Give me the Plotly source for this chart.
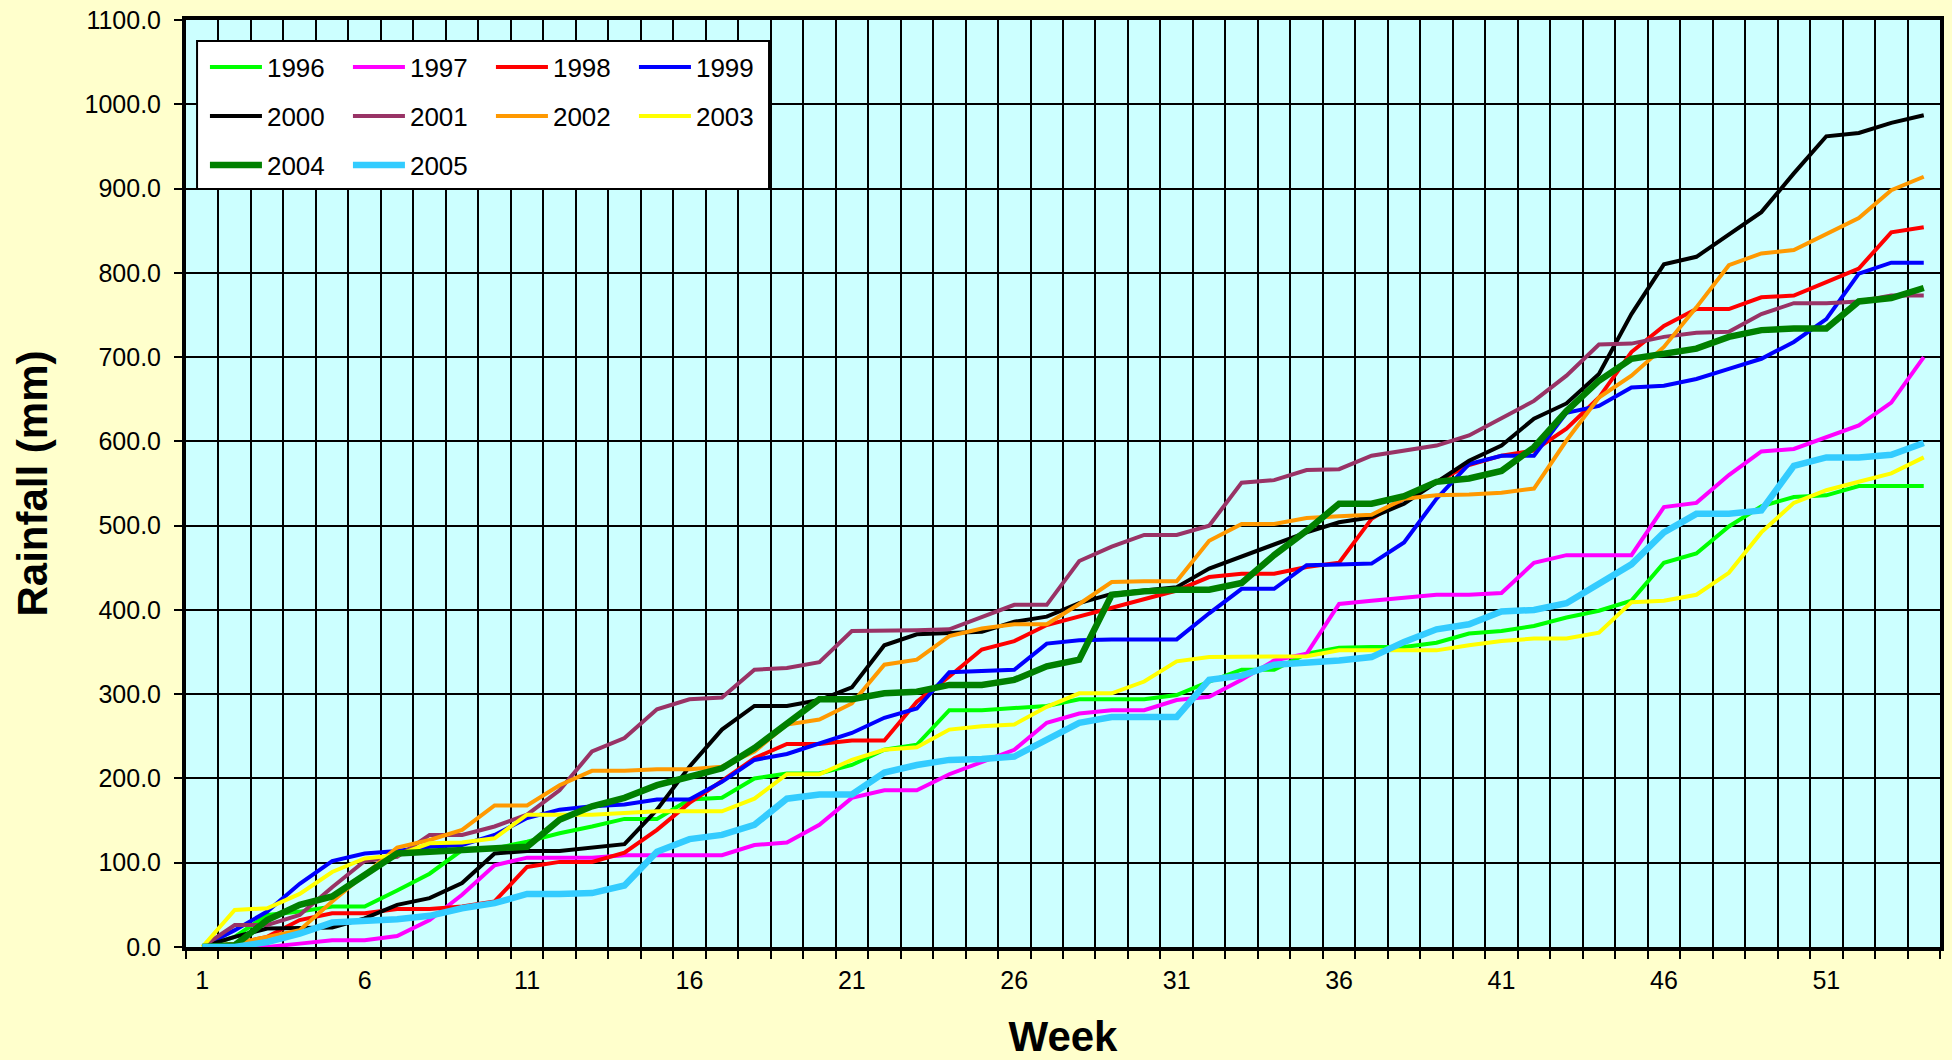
import plotly.graph_objects as go

weeks = list(range(1, 55))
tick_weeks = [1, 6, 11, 16, 21, 26, 31, 36, 41, 46, 51]
tick_labels = [str(w) for w in tick_weeks]

y1996 = [0, 12, 38, 42, 48, 48, 67, 87, 115, 117, 125, 135, 143, 152, 152, 175, 177,
         200, 206, 206, 216, 234, 240, 281, 281, 283, 286, 294, 294, 294, 299, 315, 329, 329, 348,
         355, 356, 356, 361, 372, 375, 381, 391, 399, 411, 456, 467, 499, 523, 534, 536, 547, 547, 547]
y1997 = [0, 0, 0, 4, 8, 8, 13, 32, 62, 97, 106, 106, 106, 109, 109, 109, 109,
         121, 124, 145, 177, 186, 186, 205, 220, 234, 266, 277, 281, 281, 293, 297, 317, 340, 348,
         407, 411, 415, 418, 418, 420, 456, 465, 465, 465, 522, 527, 560, 588, 591, 605, 619, 646, 700]
y1998 = [0, 4, 12, 32, 40, 40, 45, 45, 48, 54, 95, 101, 101, 112, 139, 171, 197,
         224, 241, 241, 245, 245, 291, 321, 353, 363, 382, 392, 402, 413, 423, 439, 443, 443, 451,
         456, 508, 532, 552, 572, 583, 589, 615, 652, 706, 737, 757, 757, 771, 773, 789, 805, 848, 854]
y1999 = [0, 20, 42, 75, 102, 111, 114, 119, 121, 133, 153, 163, 167, 169, 175, 175, 196,
         222, 229, 242, 254, 272, 283, 326, 328, 329, 360, 364, 365, 365, 365, 396, 425, 425, 453,
         454, 455, 480, 532, 573, 583, 583, 634, 642, 664, 666, 674, 686, 698, 718, 745, 799, 812, 812]
y2000 = [0, 12, 22, 23, 23, 34, 50, 58, 76, 111, 114, 114, 118, 122, 163, 214, 258,
         286, 286, 293, 308, 358, 371, 373, 374, 386, 392, 408, 419, 423, 427, 449, 463, 477, 492,
         504, 510, 526, 552, 577, 595, 627, 645, 680, 751, 810, 819, 846, 872, 918, 962, 966, 978, 987]
y2001 = [0, 26, 26, 38, 71, 102, 107, 133, 133, 143, 157, 186, 232, 248, 282, 294, 296,
         329, 331, 338, 375, 375, 376, 377, 392, 406, 406, 458, 475, 489, 489, 500, 551, 554, 566,
         567, 583, 589, 595, 607, 627, 648, 678, 715, 716, 724, 729, 730, 751, 764, 764, 766, 773, 773]
y2002 = [0, 4, 12, 20, 54, 86, 118, 127, 139, 168, 168, 192, 209, 209, 211, 211, 214,
         232, 264, 270, 289, 335, 341, 369, 378, 383, 383, 407, 433, 434, 434, 482, 502, 502, 509,
         511, 513, 532, 536, 537, 539, 544, 601, 652, 678, 712, 759, 809, 823, 827, 846, 865, 898, 914]
y2003 = [0, 44, 46, 63, 89, 105, 109, 123, 124, 129, 157, 157, 157, 159, 161, 161, 161,
         176, 205, 205, 222, 234, 237, 258, 262, 264, 285, 301, 301, 315, 339, 344, 344, 344, 345,
         352, 352, 352, 352, 358, 363, 366, 366, 373, 409, 411, 418, 444, 492, 527, 542, 552, 562, 581]
y2004 = [0, 2, 32, 50, 60, 85, 111, 113, 115, 116, 119, 151, 167, 177, 192, 202, 212,
         236, 266, 294, 294, 301, 303, 311, 311, 317, 333, 341, 418, 422, 424, 424, 432, 465, 494,
         526, 526, 535, 552, 556, 565, 593, 636, 672, 698, 704, 710, 724, 732, 734, 734, 766, 770, 782]
y2005 = [0, 0, 6, 16, 29, 31, 33, 37, 46, 52, 63, 63, 64, 73, 113, 128, 133,
         145, 176, 181, 181, 207, 216, 222, 223, 226, 246, 266, 273, 273, 273, 317, 322, 335, 337,
         340, 344, 362, 377, 383, 398, 400, 408, 431, 454, 492, 514, 514, 518, 571, 581, 581, 584, 598]

series = [
    ("1996", y1996, "#00FF00", 4, "legend"),
    ("1997", y1997, "#FF00FF", 4, "legend"),
    ("1998", y1998, "#FF0000", 4, "legend"),
    ("1999", y1999, "#0000FF", 4, "legend"),
    ("2000", y2000, "#000000", 4, "legend2"),
    ("2001", y2001, "#993366", 4, "legend2"),
    ("2002", y2002, "#FF9900", 4, "legend2"),
    ("2003", y2003, "#FFFF00", 4, "legend2"),
    ("2004", y2004, "#008000", 6.5, "legend3"),
    ("2005", y2005, "#33CCFF", 6.5, "legend3"),
]

FONT = "Liberation Sans, Arial, sans-serif"

fig = go.Figure()
for name, vals, color, width, leg in series:
    fig.add_trace(go.Scatter(
        x=weeks, y=vals, name=name, mode="lines",
        line=dict(color=color, width=width),
        legend=leg,
    ))

leg_common = dict(
    orientation="h", bgcolor="rgba(0,0,0,0)", borderwidth=0,
    itemwidth=52, entrywidth=76, entrywidthmode="pixels",
    font=dict(family=FONT, size=26, color="black"),
    x=0.0108, xanchor="left", yanchor="middle", traceorder="normal",
)

fig.update_layout(
    width=1952, height=1060,
    margin=dict(l=186, r=12, t=20, b=113, autoexpand=False),
    paper_bgcolor="#FFFFCC",
    plot_bgcolor="#CCFFFF",
    font=dict(family=FONT, size=25, color="black"),
    showlegend=True,
    legend=dict(leg_common, y=0.9493),
    legend2=dict(leg_common, y=0.8964),
    legend3=dict(leg_common, y=0.8436),
    shapes=[dict(
        type="rect", xref="paper", yref="paper",
        x0=0.0063, x1=0.3324, y0=0.8177, y1=0.9773,
        fillcolor="white", line=dict(color="black", width=2), layer="above",
    )],
)

fig.update_xaxes(
    range=[0.5, 54.5], tickmode="array", tickvals=tick_weeks, ticktext=tick_labels,
    ticks="outside", ticklen=8, tickcolor="rgba(0,0,0,0)",
    showgrid=False, zeroline=False,
    showline=True, linecolor="black", linewidth=4, mirror=True,
    tickfont=dict(family=FONT, size=25, color="black"),
    ticklabelstandoff=0,
    minor=dict(tick0=0.5, dtick=1, ticks="outside", ticklen=8, tickwidth=2,
               tickcolor="black", showgrid=True, gridcolor="black", gridwidth=2),
    title=dict(text="<b>Week</b>", font=dict(family=FONT, size=42, color="black"), standoff=32),
    automargin=False,
)
fig.update_yaxes(
    range=[0, 1100], dtick=100, tick0=0, tickformat=".1f",
    ticks="outside", ticklen=8, tickwidth=2, tickcolor="black",
    showgrid=True, gridcolor="black", gridwidth=2, zeroline=False,
    showline=True, linecolor="black", linewidth=4, mirror=True,
    tickfont=dict(family=FONT, size=25, color="black"),
    ticklabelstandoff=8,
    title=dict(text="<b>Rainfall (mm)</b>", font=dict(family=FONT, size=42, color="black"), standoff=25),
    automargin=False,
)

fig.write_html(
    "out.html",
    config={"displayModeBar": False},
    post_script="document.body.style.margin='0';document.body.style.background='#FFFFCC';document.body.style.overflow='hidden';",
)
